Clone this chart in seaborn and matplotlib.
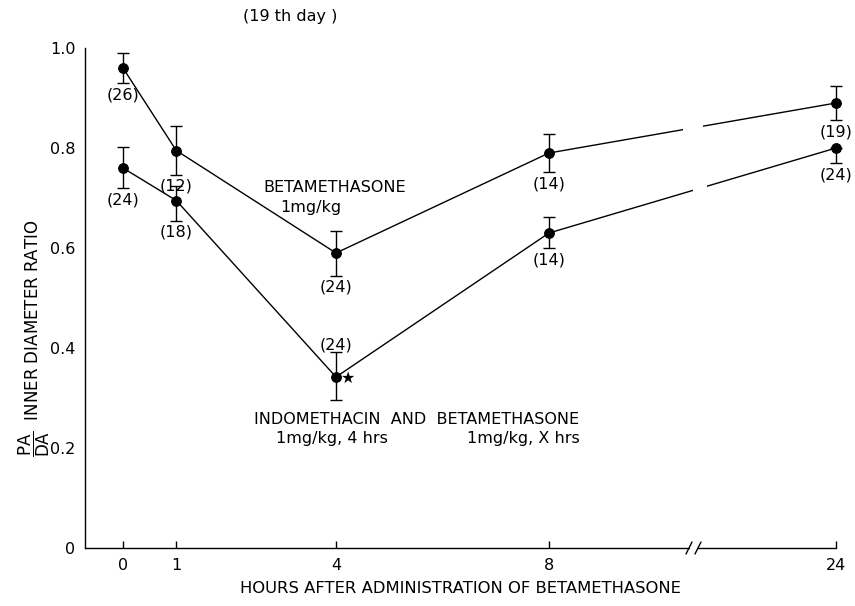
import numpy as np
import matplotlib
matplotlib.use("Agg")
import matplotlib.pyplot as plt
import seaborn as sns

# ---- data ----
hours = [0, 1, 4, 8, 24]
beta_mean = [0.96, 0.795, 0.59, 0.79, 0.89]
beta_err = [0.03, 0.048, 0.045, 0.038, 0.034]
beta_n = ["(26)", "(12)", "(24)", "(14)", "(19)"]
indo_mean = [0.76, 0.695, 0.342, 0.63, 0.80]
indo_err_lo = [0.04, 0.04, 0.045, 0.03, 0.03]
indo_err_hi = [0.042, 0.03, 0.05, 0.032, 0.0]
indo_n = ["(24)", "(18)", "(24)", "(14)", "(24)"]
xticks = [0, 1, 4, 8, 24]
yticks = [0, 0.2, 0.4, 0.6, 0.8, 1.0]
ytick_labels = ["0", "0.2", "0.4", "0.6", "0.8", "1.0"]

sns.set_theme(style="white")
plt.rcParams['font.family'] = ['DejaVu Sans']
plt.rcParams.update({'text.color': 'black', 'axes.labelcolor': 'black',
                     'xtick.color': 'black', 'ytick.color': 'black'})
FS = 11.5

W, H = 855, 606
fig = plt.figure(figsize=(W / 100, H / 100), dpi=100)
L, R, B, T = 85, 836, 548, 48
ax = fig.add_axes([L / W, 1 - B / H, (R - L) / W, (B - T) / H])

# broken axis scale: linear up to 10 h, compressed afterwards
K = 3.39 / 14.0
def fwd(h):
    h = np.asarray(h, dtype=float)
    return np.where(h <= 10, h, 10 + (h - 10) * K)
def inv(p):
    p = np.asarray(p, dtype=float)
    return np.where(p <= 10, p, 10 + (p - 10) / K)
ax.set_xscale('function', functions=(fwd, inv))
ax.set_xlim(float(inv(-0.714)), 24)
ax.set_ylim(0, 1.0)

for mean in (beta_mean, indo_mean):
    sns.lineplot(x=hours, y=mean, ax=ax, color='black', lw=1.0,
                 marker='o', markersize=7, markeredgecolor='black', zorder=4,
                 clip_on=False)
eb1 = ax.errorbar(hours, beta_mean, yerr=beta_err, fmt='none', ecolor='black',
                  elinewidth=1.0, capsize=4.5, capthick=1.0, zorder=3)
eb2 = ax.errorbar(hours, indo_mean, yerr=[indo_err_lo, indo_err_hi], fmt='none',
                  ecolor='black', elinewidth=1.0, capsize=4.5, capthick=1.0, zorder=3)
for eb in (eb1, eb2):
    for art in eb.lines[1]:
        art.set_clip_on(False)
    for art in eb.lines[2]:
        art.set_clip_on(False)

# gaps in the lines at the axis break
def px2h(px):
    return float(inv((px - 123) / 53.25))
ax.axvspan(px2h(683), px2h(703), ymin=0.82, ymax=0.95, color='white', lw=0, zorder=5)
ax.axvspan(px2h(693), px2h(707), ymin=0.68, ymax=0.80, color='white', lw=0, zorder=5)

# n labels
for i, (x, m) in enumerate(zip(hours, beta_mean)):
    ax.annotate(beta_n[i], (x, m - beta_err[i]), xytext=(0, -3),
                textcoords='offset points', ha='center', va='top', fontsize=FS)
for i, (x, m) in enumerate(zip(hours, indo_mean)):
    if i == 2:
        ax.annotate(indo_n[i], (x, m + indo_err_hi[i]), xytext=(0, 0),
                    textcoords='offset points', ha='center', va='bottom', fontsize=FS)
    else:
        ax.annotate(indo_n[i], (x, m - indo_err_lo[i]), xytext=(0, -3),
                    textcoords='offset points', ha='center', va='top', fontsize=FS)
ax.annotate("★", (hours[2], indo_mean[2]), xytext=(9, -1), textcoords='offset points',
            ha='center', va='center', fontsize=FS)

# axes styling
for s in ('top', 'right', 'bottom'):
    ax.spines[s].set_visible(False)
ax.spines['left'].set_color('black')
ax.spines['left'].set_linewidth(1.0)
ax.set_yticks(yticks)
ax.set_yticklabels(ytick_labels, fontsize=FS)
ax.set_xticks(xticks)
ax.set_xticklabels([str(t) for t in xticks], fontsize=FS)
ax.tick_params(axis='y', direction='out', length=5, width=1, color='black', pad=2)
ax.tick_params(axis='x', direction='in', length=5, width=1, color='black', pad=7, bottom=True)
ax.grid(False)

# broken bottom spine
fx1 = (689 - L) / (R - L)
fx2 = (698 - L) / (R - L)
kw = dict(transform=ax.transAxes, color='black', lw=1.0, clip_on=False, zorder=6)
ax.plot([0, fx1], [0, 0], **kw)
ax.plot([fx2, 1], [0, 0], **kw)
dx, dy = 3 / (R - L), 6 / (B - T)
for fx in (fx1, fx2):
    ax.plot([fx - dx, fx + dx], [-dy, dy], **kw)

ax.set_xlabel("HOURS AFTER ADMINISTRATION OF BETAMETHASONE", fontsize=FS + 0.3, labelpad=6)
ax.set_ylabel(r"$\mathrm{\dfrac{PA}{DA}}$  INNER DIAMETER RATIO", fontsize=FS + 0.5)
ax.yaxis.set_label_coords((52 - L) / (R - L), 0.42)

def ftxt(x, y, s, **k):
    fig.text(x / W, 1 - y / H, s, fontsize=FS, ha=k.pop('ha', 'center'), va='center', **k)
ftxt(290, 17, "(19 th day )")
ftxt(335, 188, "BETAMETHASONE")
ftxt(311, 208, "1mg/kg")
ftxt(417, 419, "INDOMETHACIN  AND  BETAMETHASONE")
ftxt(332, 439, "1mg/kg, 4 hrs")
ftxt(523, 439, "1mg/kg, X hrs")

fig.savefig("out.png", dpi=100, facecolor='white')
